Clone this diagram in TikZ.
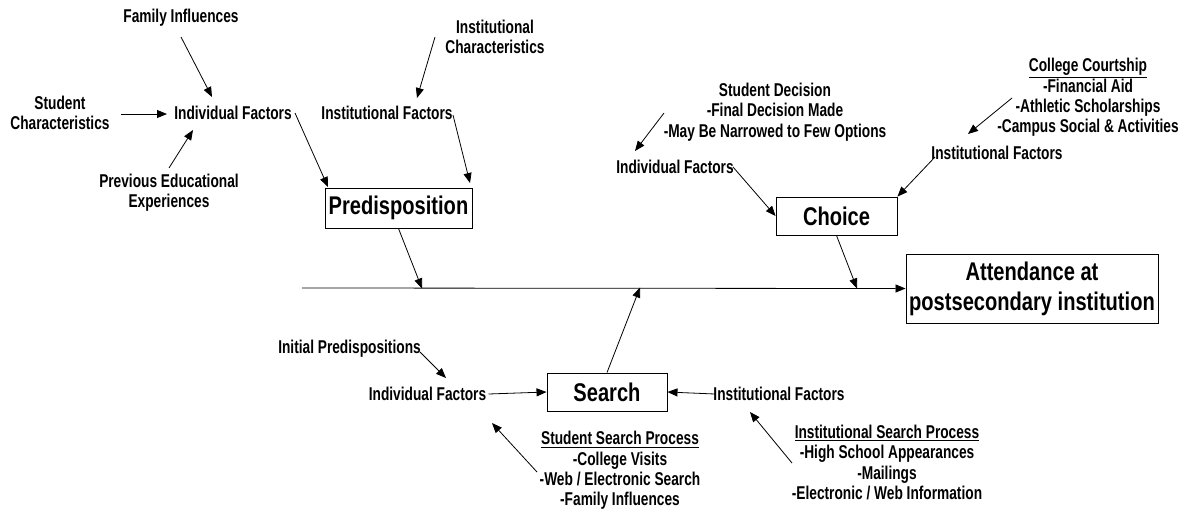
\documentclass[tikz,border=0pt]{standalone}
\usepackage{fontspec}
\setmainfont{Liberation Sans}[FakeStretch=0.74]
\newfontfamily\stagefont{Liberation Sans}[FakeStretch=0.785]
\usetikzlibrary{arrows.meta,calc}

\begin{document}
\begin{tikzpicture}[x=0.75pt,y=-0.75pt,
  lbl/.style={inner sep=1pt,align=center,font=\bfseries\fontsize{13.9}{15.2}\selectfont},
  stage/.style={draw,line width=0.7pt,inner sep=0pt,align=center,
    font=\stagefont\bfseries\fontsize{19.2}{22.5}\selectfont},
  arr/.style={line width=0.6pt,-{Triangle[length=7.5pt,width=6pt]}}]
\useasboundingbox (0,0) rectangle (1189,508);

% ---- Predisposition branch ----
\node[lbl] (fam) at (181,18) {Family Influences};
\node[lbl] (stuchar) at (60,113) {Student\\Characteristics};
\node[lbl] (if1) at (233,113) {Individual Factors};
\node[lbl] (prev) at (169,193) {Previous Educational\\Experiences};
\node[lbl] (instchar) at (495,37) {Institutional\\Characteristics};
\node[lbl] (if2) at (387,113) {Institutional Factors};
\node[stage,minimum width=110.25pt,minimum height=30pt] (pred) at (398.5,208) {Predisposition};

% ---- Choice branch ----
\node[lbl] (studec) at (775,112) {Student Decision\\-Final Decision Made\\-May Be Narrowed to Few Options};
\node[lbl] (if3) at (675,167) {Individual Factors};
\node[lbl] (court) at (1088,97.5) {\underline{College Courtship}\\-Financial Aid\\-Athletic Scholarships\\-Campus Social \& Activities};
\node[lbl] (if4) at (997,153) {Institutional Factors};
\node[stage,minimum width=90.75pt,minimum height=28.5pt] (choice) at (836.5,216) {Choice};

% ---- Outcome ----
\node[stage,minimum width=189pt,minimum height=51.75pt] (attend) at (1032,288.5)
  {Attendance at\\postsecondary institution};
\coordinate (spine) at (302,288);

% ---- Search branch ----
\node[stage,minimum width=90pt,minimum height=28.5pt] (search) at (607,392) {Search};
\node[lbl] (initp) at (349.5,349) {Initial Predispositions};
\node[lbl] (if5) at (427.5,394) {Individual Factors};
\node[lbl] (if6) at (779,394) {Institutional Factors};
\node[lbl] (ssp) at (620,470.5) {\underline{Student Search Process}\\-College Visits\\-Web / Electronic Search\\-Family Influences};
\node[lbl] (isp) at (887,462.5) {\underline{Institutional Search Process}\\-High School Appearances\\-Mailings\\-Electronic / Web Information};

% ---- connectors ----
\draw[arr] ($(fam)+(0,19)$) -- ($(if1)+(-21,-16)$);
\draw[arr] ($(stuchar)+(61,1)$) -- ($(if1)+(-66,1)$);
\draw[arr] ($(prev)+(0,-25)$) -- ($(if1)+(-40,17)$);
\draw[arr] ($(instchar)+(-60,0)$) -- ($(if2)+(30,-15)$);
\draw[arr] ($(if1)+(62,0)$) -- ($(pred)+(-70.5,-21)$);
\draw[arr] ($(if2)+(66,2)$) -- ($(pred)+(71.5,-25)$);

\draw[arr] ($(studec)+(-111,1)$) -- ($(if3)+(-40,-16)$);
\draw[arr] ($(if3)+(58,0)$) -- (choice.west);
\draw[arr] ($(court)+(-76,0.5)$) -- ($(if4)+(-29,-19)$);
\draw[arr] ($(if4)+(-62,4)$) -- (choice.north east);

\draw[arr] (spine) -- (attend.west);
\draw[arr] (pred.south) -- ($(pred.south)+(23.5,60)$);
\draw[arr] (choice.south) -- ($(choice.south)+(20.5,53)$);
\draw[arr] (search.north) -- ($(search.north)+(33,-85)$);

\draw[arr] ($(initp)+(70.5,3)$) -- ($(if5)+(18.5,-16)$);
\draw[arr] ($(if5)+(61,0)$) -- (search.west);
\draw[arr] ($(if6)+(-64,0)$) -- (search.east);
\draw[arr] ($(ssp)+(-83,1.5)$) -- ($(if5)+(64.5,29)$);
\draw[arr] ($(isp)+(-95,0.5)$) -- ($(if6)+(-29,18)$);
\end{tikzpicture}
\end{document}
